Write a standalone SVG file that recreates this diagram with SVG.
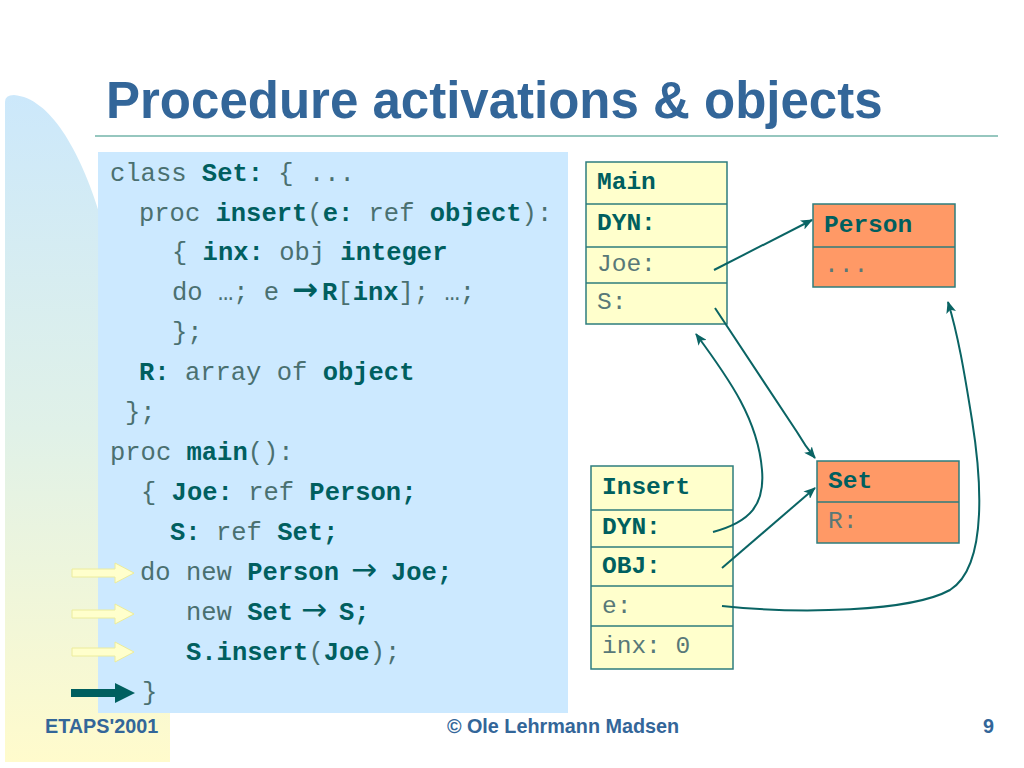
<svg xmlns="http://www.w3.org/2000/svg" width="1024" height="768" viewBox="0 0 1024 768">
<defs>
<linearGradient id="band" x1="0" y1="0" x2="0" y2="1">
<stop offset="0" stop-color="#cce8fb"/>
<stop offset="0.5" stop-color="#e0f1e8"/>
<stop offset="1" stop-color="#fffbcc"/>
</linearGradient>
<marker id="ah" viewBox="0 0 12 10" refX="11" refY="5" markerWidth="12" markerHeight="10" markerUnits="userSpaceOnUse" orient="auto">
<path d="M0,0 L12,5 L0,10 L3,5 Z" fill="#0a6464"/>
</marker>
<style>
.title{font-family:"Liberation Sans",Arial,sans-serif;font-weight:bold;font-size:51px;fill:#336699}
.foot{font-family:"Liberation Sans",Arial,sans-serif;font-weight:bold;font-size:19.8px;fill:#336699}
.code{font-family:"Liberation Mono","Courier New",monospace;font-size:25.5px;fill:#4a7070;white-space:pre}
.b{font-weight:bold;fill:#005f5f}
.arr{font-family:"DejaVu Sans",sans-serif;font-size:31px;fill:#005f5f}
.box text{font-family:"Liberation Mono","Courier New",monospace;font-size:24.5px;fill:#587878;white-space:pre}
.box text.b{font-weight:bold;fill:#005f5f}
.y{fill:#ffffcc;stroke:#2e7d7d;stroke-width:1.5}
.o{fill:#ff9966;stroke:#2e7d7d;stroke-width:1.5}
.sep{stroke:#2e7d7d;stroke-width:1.5}
.conn path{fill:none;stroke:#0a6464;stroke-width:2;marker-end:url(#ah)}
.pa{fill:#ffffcc;stroke:#ecec9c;stroke-width:1}
</style>
</defs>
<rect x="0" y="0" width="1024" height="768" fill="#ffffff"/>
<path d="M5,762 L5,102 Q5,95 14,95 C 50,98 80,150 100,215 L170,420 L170,762 Z" fill="url(#band)"/>
<text class="title" x="106" y="118">Procedure activations &amp; objects</text>
<line x1="95" y1="136" x2="998" y2="136" stroke="#2e8f80" stroke-width="1.2"/>
<rect x="98" y="152" width="470" height="561" fill="#cce9ff"/>
<g id="code" class="code">
<text x="110" y="181">class <tspan class="b">Set:</tspan> { ...</text>
<text x="139" y="221">proc <tspan class="b">insert</tspan>(<tspan class="b">e:</tspan> ref <tspan class="b">object</tspan>):</text>
<text x="172" y="260">{ <tspan class="b">inx:</tspan> obj <tspan class="b">integer</tspan></text>
<text x="172" y="300">do …; e <tspan class="arr" x="292" font-weight="bold">→</tspan><tspan class="b" x="322">R</tspan>[<tspan class="b">inx</tspan>]; …;</text>
<text x="172" y="340">};</text>
<text x="139" y="380"><tspan class="b">R:</tspan> array of <tspan class="b">object</tspan></text>
<text x="125" y="420">};</text>
<text x="110" y="460">proc <tspan class="b">main</tspan>():</text>
<text x="141" y="500">{ <tspan class="b">Joe:</tspan> ref <tspan class="b">Person;</tspan></text>
<text x="170" y="540"><tspan class="b">S:</tspan> ref <tspan class="b">Set;</tspan></text>
<text x="140" y="580">do new <tspan class="b">Person</tspan><tspan class="arr" x="351">→</tspan><tspan class="b" x="391">Joe;</tspan></text>
<text x="186" y="620">new <tspan class="b">Set</tspan><tspan class="arr" x="301">→</tspan><tspan class="b" x="339">S;</tspan></text>
<text x="186" y="660"><tspan class="b">S.insert</tspan>(<tspan class="b">Joe</tspan>);</text>
<text x="142" y="700">}</text>
</g>
<g id="pointers">
<path class="pa" d="M72,569 L115,569 L115,563 L134,573 L115,583 L115,577 L72,577 Z"/>
<path class="pa" d="M72,610 L115,610 L115,604 L134,614 L115,624 L115,618 L72,618 Z"/>
<path class="pa" d="M72,648 L115,648 L115,642 L134,652 L115,662 L115,656 L72,656 Z"/>
<path d="M71,689 L115,689 L115,683 L135,693 L115,703 L115,697 L71,697 Z" fill="#005f5f"/>
</g>
<g id="main" class="box">
<rect class="y" x="586" y="162" width="141" height="162"/>
<line class="sep" x1="586" y1="204" x2="727" y2="204"/>
<line class="sep" x1="586" y1="247" x2="727" y2="247"/>
<line class="sep" x1="586" y1="283" x2="727" y2="283"/>
<text class="b" x="597" y="189">Main</text>
<text class="b" x="597" y="230">DYN:</text>
<text x="597" y="271">Joe:</text>
<text x="597" y="309">S:</text>
</g>
<g id="person" class="box">
<rect class="o" x="813" y="204" width="142" height="83"/>
<line class="sep" x1="813" y1="247" x2="955" y2="247"/>
<text class="b" x="824" y="232">Person</text>
<text x="824" y="272">...</text>
</g>
<g id="insert" class="box">
<rect class="y" x="591" y="466" width="142" height="203"/>
<line class="sep" x1="591" y1="510" x2="733" y2="510"/>
<line class="sep" x1="591" y1="547" x2="733" y2="547"/>
<line class="sep" x1="591" y1="586" x2="733" y2="586"/>
<line class="sep" x1="591" y1="626" x2="733" y2="626"/>
<text class="b" x="602" y="494">Insert</text>
<text class="b" x="602" y="534">DYN:</text>
<text class="b" x="602" y="573">OBJ:</text>
<text x="602" y="613">e:</text>
<text x="602" y="653">inx: 0</text>
</g>
<g id="set" class="box">
<rect class="o" x="817" y="461" width="142" height="82"/>
<line class="sep" x1="817" y1="502" x2="959" y2="502"/>
<text class="b" x="828" y="488">Set</text>
<text x="828" y="528">R:</text>
</g>
<g id="connectors" class="conn">
<path d="M714,270 L812,220"/>
<path d="M715,308 L797,432 Q805,446 815,458"/>
<path d="M713,532 C750,522 765,505 762,470 C758,420 730,380 696,334"/>
<path d="M722,568 L815,488"/>
<path d="M722,606 C800,614 910,612 950,590 C990,565 980,470 972,420 C964,370 958,335 948,302"/>
</g>
<text class="foot" x="45" y="733">ETAPS'2001</text>
<text class="foot" x="563" y="733" text-anchor="middle">© Ole Lehrmann Madsen</text>
<text class="foot" x="983" y="733">9</text>
</svg>
